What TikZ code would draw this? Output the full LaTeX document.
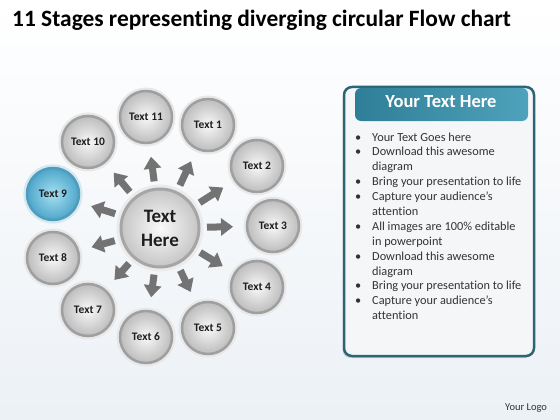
\documentclass[tikz,border=0pt]{standalone}
\usepackage{fontspec}
\setmainfont{Carlito}[Ligatures=NoCommon]
\usetikzlibrary{arrows.meta,shadows}
\definecolor{bgblue}{HTML}{ECF1F6}
\definecolor{panelborder}{HTML}{2C6676}
\definecolor{panelfill}{HTML}{F5F6F8}
\definecolor{headdark}{HTML}{2F7E97}
\definecolor{headlight}{HTML}{4FA2BB}
\definecolor{blueinner}{HTML}{A6E0F2}
\definecolor{blueouter}{HTML}{4EA6CA}
\definecolor{bluering}{HTML}{4F9CBC}
\definecolor{bluehalo}{HTML}{D3E9F2}
\definecolor{arrowgray}{HTML}{737373}
\definecolor{textdark}{HTML}{1E1E1E}
\definecolor{bullettext}{HTML}{333333}
\begin{document}
\begin{tikzpicture}[x=1pt,y=-1pt,
  bub/.style={circle, minimum size=52pt, inner sep=0pt, outer sep=0pt,
    draw=gray!75, line width=2.5pt, inner color=gray!5, outer color=gray!52,
    preaction={draw=gray!18, line width=7pt},
    font=\bfseries\fontsize{11.5}{13}\selectfont, text=textdark},
  bluebub/.style={bub, draw=bluering, inner color=blueinner, outer color=blueouter,
    preaction={draw=bluehalo, line width=7pt}},
  hub/.style={circle, minimum size=78pt, inner sep=0pt, outer sep=0pt,
    draw=gray!70, line width=3pt, inner color=gray!4, outer color=gray!45,
    preaction={draw=gray!16, line width=9pt},
    font=\bfseries\fontsize{19}{24}\selectfont, text=textdark, align=center},
  arr/.style={draw=arrowgray, line width=7pt,
    -{Triangle[width=17pt,length=12pt]}, shorten <=8pt, shorten >=14pt},
  panel/.style={draw=panelborder, line width=2.5pt, fill=panelfill, rounded corners=8pt,
    drop shadow={shadow xshift=-1.5pt, shadow yshift=-2pt, opacity=0.3}},
  header/.style={left color=headdark, right color=headlight},
  bullets/.style={font=\fontsize{12.3}{14.9}\selectfont, text=bullettext, anchor=base west, inner sep=0pt}
]
\useasboundingbox (0,0) rectangle (560,420);
\shade[top color=white, bottom color=bgblue] (0,0) rectangle (560,420);

% title
\node[anchor=base west, inner sep=0pt, font=\bfseries\fontsize{23.4}{27}\selectfont, text=black] (title) at (12,27)
  {11 Stages representing diverging circular Flow chart};

% hub and stages
\node[hub] (c) at (160,228) {Text\\Here};
\node[bub] (t1) at (208,125) {Text 1};
\node[bub] (t2) at (257,166) {Text 2};
\node[bub] (t3) at (273,226) {Text 3};
\node[bub] (t4) at (257,287) {Text 4};
\node[bub] (t5) at (208,328) {Text 5};
\node[bub] (t6) at (146,337) {Text 6};
\node[bub] (t7) at (88,310) {Text 7};
\node[bub] (t8) at (53,258) {Text 8};
\node[bluebub] (t9) at (53,194) {Text 9};
\node[bub] (t10) at (88,142) {Text 10};
\node[bub] (t11) at (146,117) {Text 11};

\foreach \t in {t1,t2,t3,t4,t5,t6,t7,t8,t9,t10,t11}
  \draw[arr] (c) -- (\t);

% panel
\draw[panel] (344,87) rectangle (534,356);
\path[header, rounded corners=6pt] (355,88) rectangle (528,121);
\node[font=\bfseries\fontsize{18.5}{21}\selectfont, text=white] (head) at (441,102) {Your Text Here};

\node[bullets] (list) at (355,141) {%
\begin{tabular}[t]{@{}p{17pt}@{}l@{}}
\textbullet & Your Text Goes here\\
\textbullet & Download this awesome\\
 & diagram\\
\textbullet & Bring your presentation to life\\
\textbullet & Capture your audience’s\\
 & attention\\
\textbullet & All images are 100\% editable\\
 & in powerpoint\\
\textbullet & Download this awesome\\
 & diagram\\
\textbullet & Bring your presentation to life\\
\textbullet & Capture your audience’s\\
 & attention
\end{tabular}};

\node[anchor=base west, inner sep=0pt, font=\fontsize{10.5}{12}\selectfont, text=black!80] (logo) at (505,410) {Your Logo};
\end{tikzpicture}
\end{document}
